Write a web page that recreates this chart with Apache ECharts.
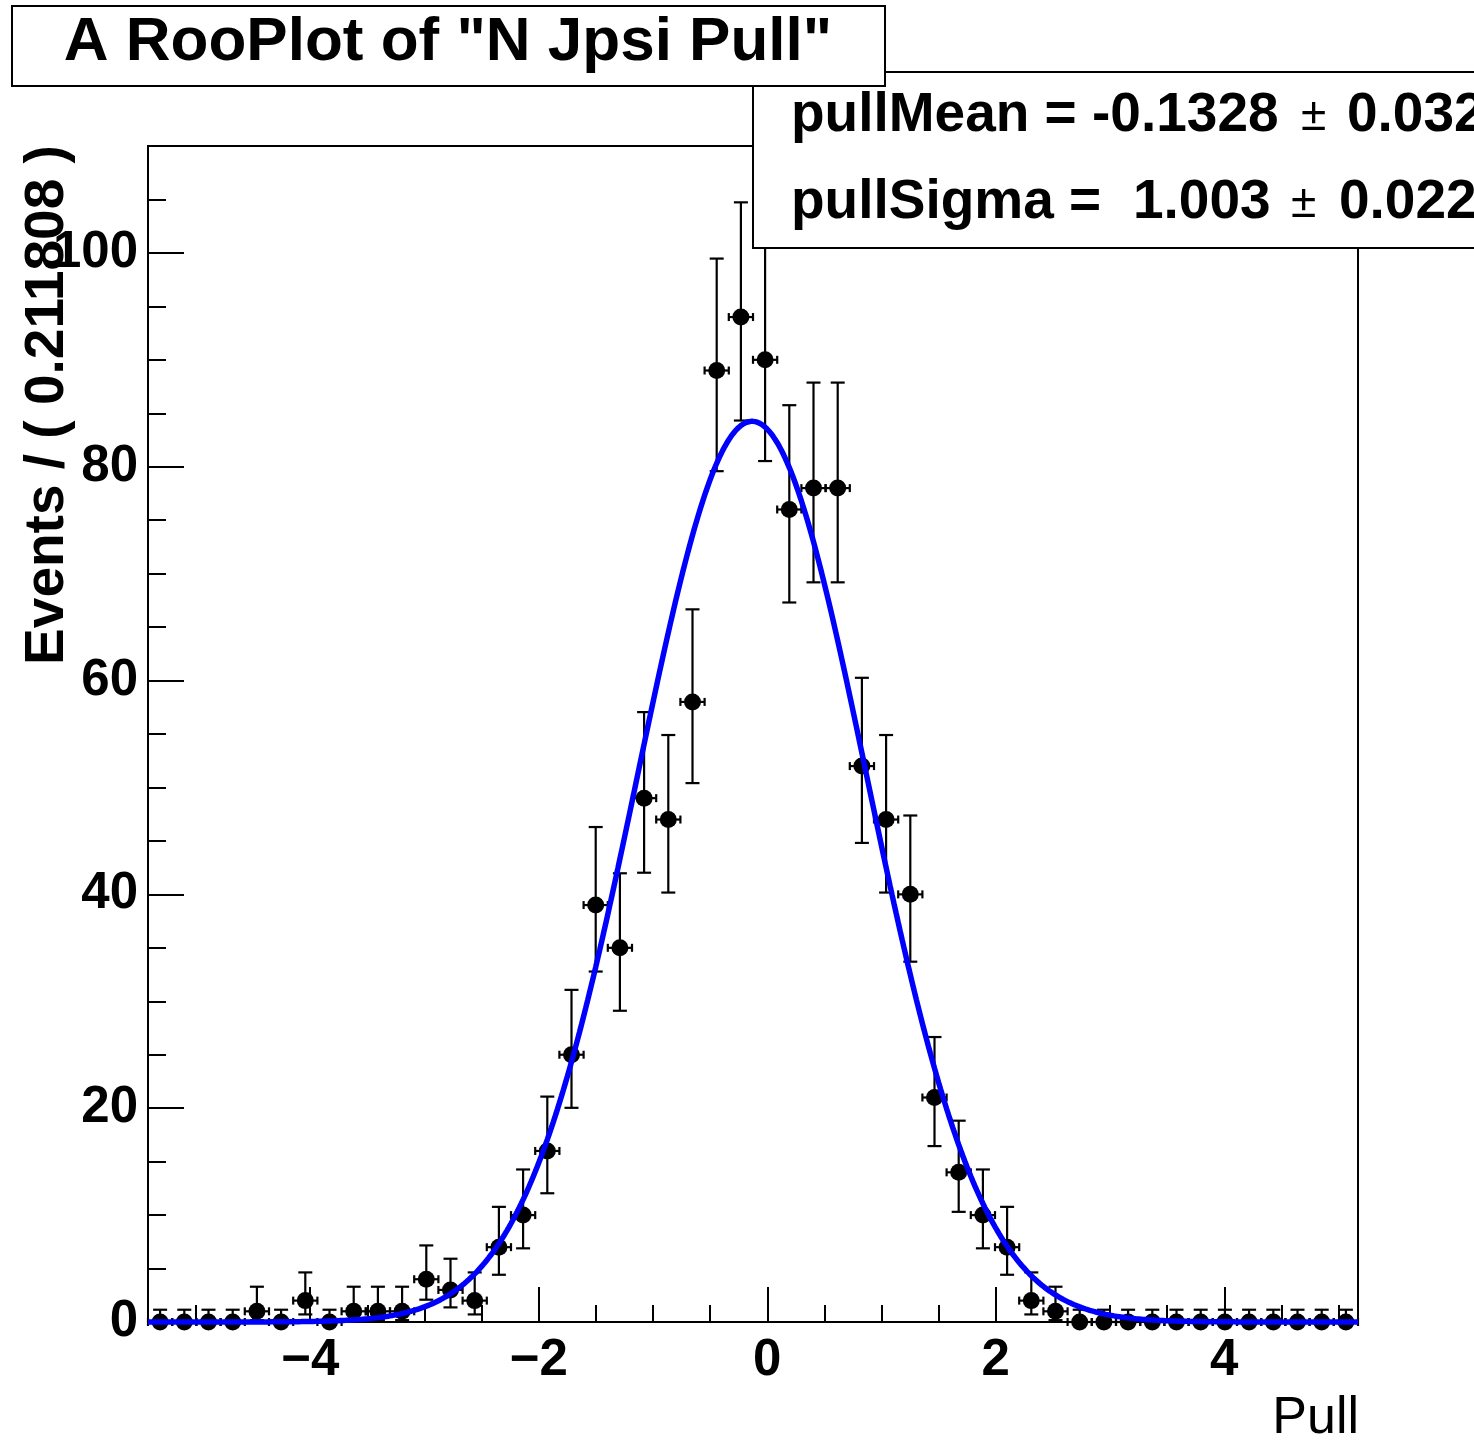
<!DOCTYPE html>
<html>
<head>
<meta charset="utf-8">
<script src="https://cdn.jsdelivr.net/npm/echarts@6/dist/echarts.min.js"></script>
<style>
html,body{margin:0;padding:0;background:#fff;}
#c{width:1474px;height:1443px;}
</style>
</head>
<body>
<div id="c"></div>
<script>
// ---------------- data ----------------
const BIN_WIDTH = 0.211808;
const N_BINS = 50;
const X_MIN = -5.42;
const X_MAX = X_MIN + N_BINS * BIN_WIDTH;

// event counts per bin, left to right
const counts = [
  0, 0, 0, 0, 1, 0, 2, 0, 1, 1,
  1, 4, 3, 2, 7, 10, 16, 25, 39, 35,
  49, 47, 58, 89, 94, 90, 76, 78, 78, 52,
  47, 40, 21, 14, 10, 7, 2, 1, 0, 0,
  0, 0, 0, 0, 0, 0, 0, 0, 0, 0
];

// fit result shown in the stats box
const fitMean = -0.1328;
const fitMeanErr = 0.032;
const fitSigma = 1.003;
const fitSigmaErr = 0.022;

// axis ticks
const xMajorTicks = [-4, -2, 0, 2, 4];
const xMinorTicks = [-5, -4.5, -4, -3.5, -3, -2.5, -2, -1.5, -1, -0.5, 0, 0.5, 1, 1.5, 2, 2.5, 3, 3.5, 4, 4.5, 5];
const yMajorTicks = [0, 20, 40, 60, 80, 100];
const yMinorTicks = [0, 5, 10, 15, 20, 25, 30, 35, 40, 45, 50, 55, 60, 65, 70, 75, 80, 85, 90, 95, 100, 105];
const Y_MAX = 110;

// ---------------- derived ----------------
const FONT = "'Liberation Sans', Arial, Helvetica, sans-serif";
const nEvents = counts.reduce((a, b) => a + b, 0);

function poissonCdf(k, mu) {
  let term = Math.exp(-mu), sum = term;
  for (let i = 1; i <= k; i++) { term *= mu / i; sum += term; }
  return sum;
}
function solve(f, target, lo, hi) { // f decreasing in mu
  for (let it = 0; it < 100; it++) {
    const mid = 0.5 * (lo + hi);
    if (f(mid) > target) lo = mid; else hi = mid;
  }
  return 0.5 * (lo + hi);
}
const ALPHA = 0.158655;
function poissonInterval(n) {
  if (n === 0) return [0, -Math.log(2 * ALPHA)];
  const hiLim = n + 10 * Math.sqrt(n) + 10;
  const muLo = solve(mu => poissonCdf(n - 1, mu), 1 - ALPHA, 0, hiLim);
  const muHi = solve(mu => poissonCdf(n, mu), ALPHA, 0, hiLim);
  return [n - muLo, muHi - n];
}

const points = counts.map((n, i) => {
  const x = X_MIN + (i + 0.5) * BIN_WIDTH;
  const e = poissonInterval(n);
  return [x, n, e[0], e[1]];
});

const curve = [];
const NS = 600;
for (let i = 0; i <= NS; i++) {
  const x = X_MIN + (X_MAX - X_MIN) * i / NS;
  const y = nEvents * BIN_WIDTH / (fitSigma * Math.sqrt(2 * Math.PI)) *
            Math.exp(-0.5 * Math.pow((x - fitMean) / fitSigma, 2));
  curve.push([x, y]);
}

const fmtX = v => (v < 0 ? '\u2212' + Math.abs(v) : String(v));

const chart = echarts.init(document.getElementById('c'), null, {renderer: 'canvas'});

function txt(x, y, text, size, weight, align, extra) {
  return Object.assign({
    type: 'text', x: x, y: y, z: 120,
    style: {
      text: text, fill: '#000',
      font: weight + ' ' + size + 'px ' + FONT,
      fontSize: size, fontWeight: weight, fontFamily: FONT,
      textAlign: align, align: align,
      textVerticalAlign: 'middle', verticalAlign: 'middle'
    }
  }, extra || {});
}

const option = {
  animation: false,
  backgroundColor: '#fff',
  grid: {
    left: 148, top: 146, right: 116, bottom: 121,
    show: true, borderColor: '#000', borderWidth: 2, backgroundColor: 'transparent'
  },
  xAxis: [
    {
      type: 'value', min: X_MIN, max: X_MAX, position: 'bottom',
      axisLine: {show: true, onZero: false, lineStyle: {color: '#000', width: 2}},
      axisTick: {show: true, inside: true, length: 35, customValues: xMajorTicks, lineStyle: {color: '#000', width: 2}},
      axisLabel: {show: true, customValues: xMajorTicks, formatter: fmtX, margin: 13,
        color: '#000', fontSize: 51, fontWeight: 'bold', fontFamily: FONT},
      splitLine: {show: false}
    },
    {
      type: 'value', min: X_MIN, max: X_MAX, position: 'bottom',
      axisLine: {show: false, onZero: false},
      axisTick: {show: true, inside: true, length: 17, customValues: xMinorTicks, lineStyle: {color: '#000', width: 2}},
      axisLabel: {show: false},
      splitLine: {show: false}
    }
  ],
  yAxis: [
    {
      type: 'value', min: 0, max: Y_MAX, position: 'left',
      axisLine: {show: true, onZero: false, lineStyle: {color: '#000', width: 2}},
      axisTick: {show: true, inside: true, length: 36, customValues: yMajorTicks, lineStyle: {color: '#000', width: 2}},
      axisLabel: {show: true, customValues: yMajorTicks, margin: 10,
        color: '#000', fontSize: 51, fontWeight: 'bold', fontFamily: FONT},
      splitLine: {show: false}
    },
    {
      type: 'value', min: 0, max: Y_MAX, position: 'left',
      axisLine: {show: false, onZero: false},
      axisTick: {show: true, inside: true, length: 18, customValues: yMinorTicks, lineStyle: {color: '#000', width: 2}},
      axisLabel: {show: false},
      splitLine: {show: false}
    }
  ],
  series: [
    {
      type: 'custom', name: 'errors', xAxisIndex: 0, yAxisIndex: 0, z: 2, clip: false,
      data: points,
      renderItem: function (params, api) {
        const x = api.value(0), y = api.value(1), lo = api.value(2), hi = api.value(3);
        const c = api.coord([x, y]);
        const t = api.coord([x, y + hi]);
        const b = api.coord([x, y - lo]);
        const l = api.coord([x - BIN_WIDTH / 2, y]);
        const r = api.coord([x + BIN_WIDTH / 2, y]);
        const st = {stroke: '#000', lineWidth: 2.2};
        const cw = 7, ch = 4;
        const ch_ = [
          {type: 'line', shape: {x1: c[0], y1: t[1], x2: c[0], y2: b[1]}, style: st},
          {type: 'line', shape: {x1: c[0] - cw, y1: t[1], x2: c[0] + cw, y2: t[1]}, style: st},
          {type: 'line', shape: {x1: l[0], y1: c[1], x2: r[0], y2: c[1]}, style: st},
          {type: 'line', shape: {x1: l[0], y1: c[1] - ch, x2: l[0], y2: c[1] + ch}, style: st},
          {type: 'line', shape: {x1: r[0], y1: c[1] - ch, x2: r[0], y2: c[1] + ch}, style: st}
        ];
        if (lo > 0) ch_.push({type: 'line', shape: {x1: c[0] - cw, y1: b[1], x2: c[0] + cw, y2: b[1]}, style: st});
        return {type: 'group', children: ch_};
      }
    },
    {
      type: 'scatter', name: 'data', xAxisIndex: 0, yAxisIndex: 0, z: 3, clip: false,
      symbol: 'circle', symbolSize: 17,
      itemStyle: {color: '#000', opacity: 1},
      data: points.map(p => [p[0], p[1]])
    },
    {
      type: 'line', name: 'fit', xAxisIndex: 0, yAxisIndex: 0, z: 4, clip: false,
      showSymbol: false, symbol: 'none',
      lineStyle: {color: '#0000ff', width: 5.5},
      data: curve
    }
  ],
  graphic: [
    {type: 'rect', z: 100, shape: {x: 753, y: 72, width: 760, height: 176},
      style: {fill: '#fff', stroke: '#000', lineWidth: 2}},
    {type: 'rect', z: 110, shape: {x: 12, y: 6, width: 873, height: 80},
      style: {fill: '#fff', stroke: '#000', lineWidth: 2}},
    txt(448, 43, 'A RooPlot of "N Jpsi Pull"', 62, 'bold', 'center'),
    txt(791, 116, 'pullMean = ' + fitMean.toFixed(4), 55, 'bold', 'left'),
    txt(1301, 117, '\u00b1', 46, 'normal', 'left'),
    txt(1347, 116, fitMeanErr.toFixed(3), 55, 'bold', 'left'),
    txt(791, 203, 'pullSigma =', 55, 'bold', 'left'),
    txt(1133, 203, fitSigma.toFixed(3), 55, 'bold', 'left'),
    txt(1291, 204, '\u00b1', 46, 'normal', 'left'),
    txt(1339, 203, fitSigmaErr.toFixed(3), 55, 'bold', 'left'),
    txt(48, 405, 'Events / ( ' + BIN_WIDTH + ' )', 55, 'bold', 'center', {rotation: Math.PI / 2}),
    txt(1359, 1419, 'Pull', 52, 'normal', 'right')
  ]
};
chart.setOption(option);
</script>
</body>
</html>
